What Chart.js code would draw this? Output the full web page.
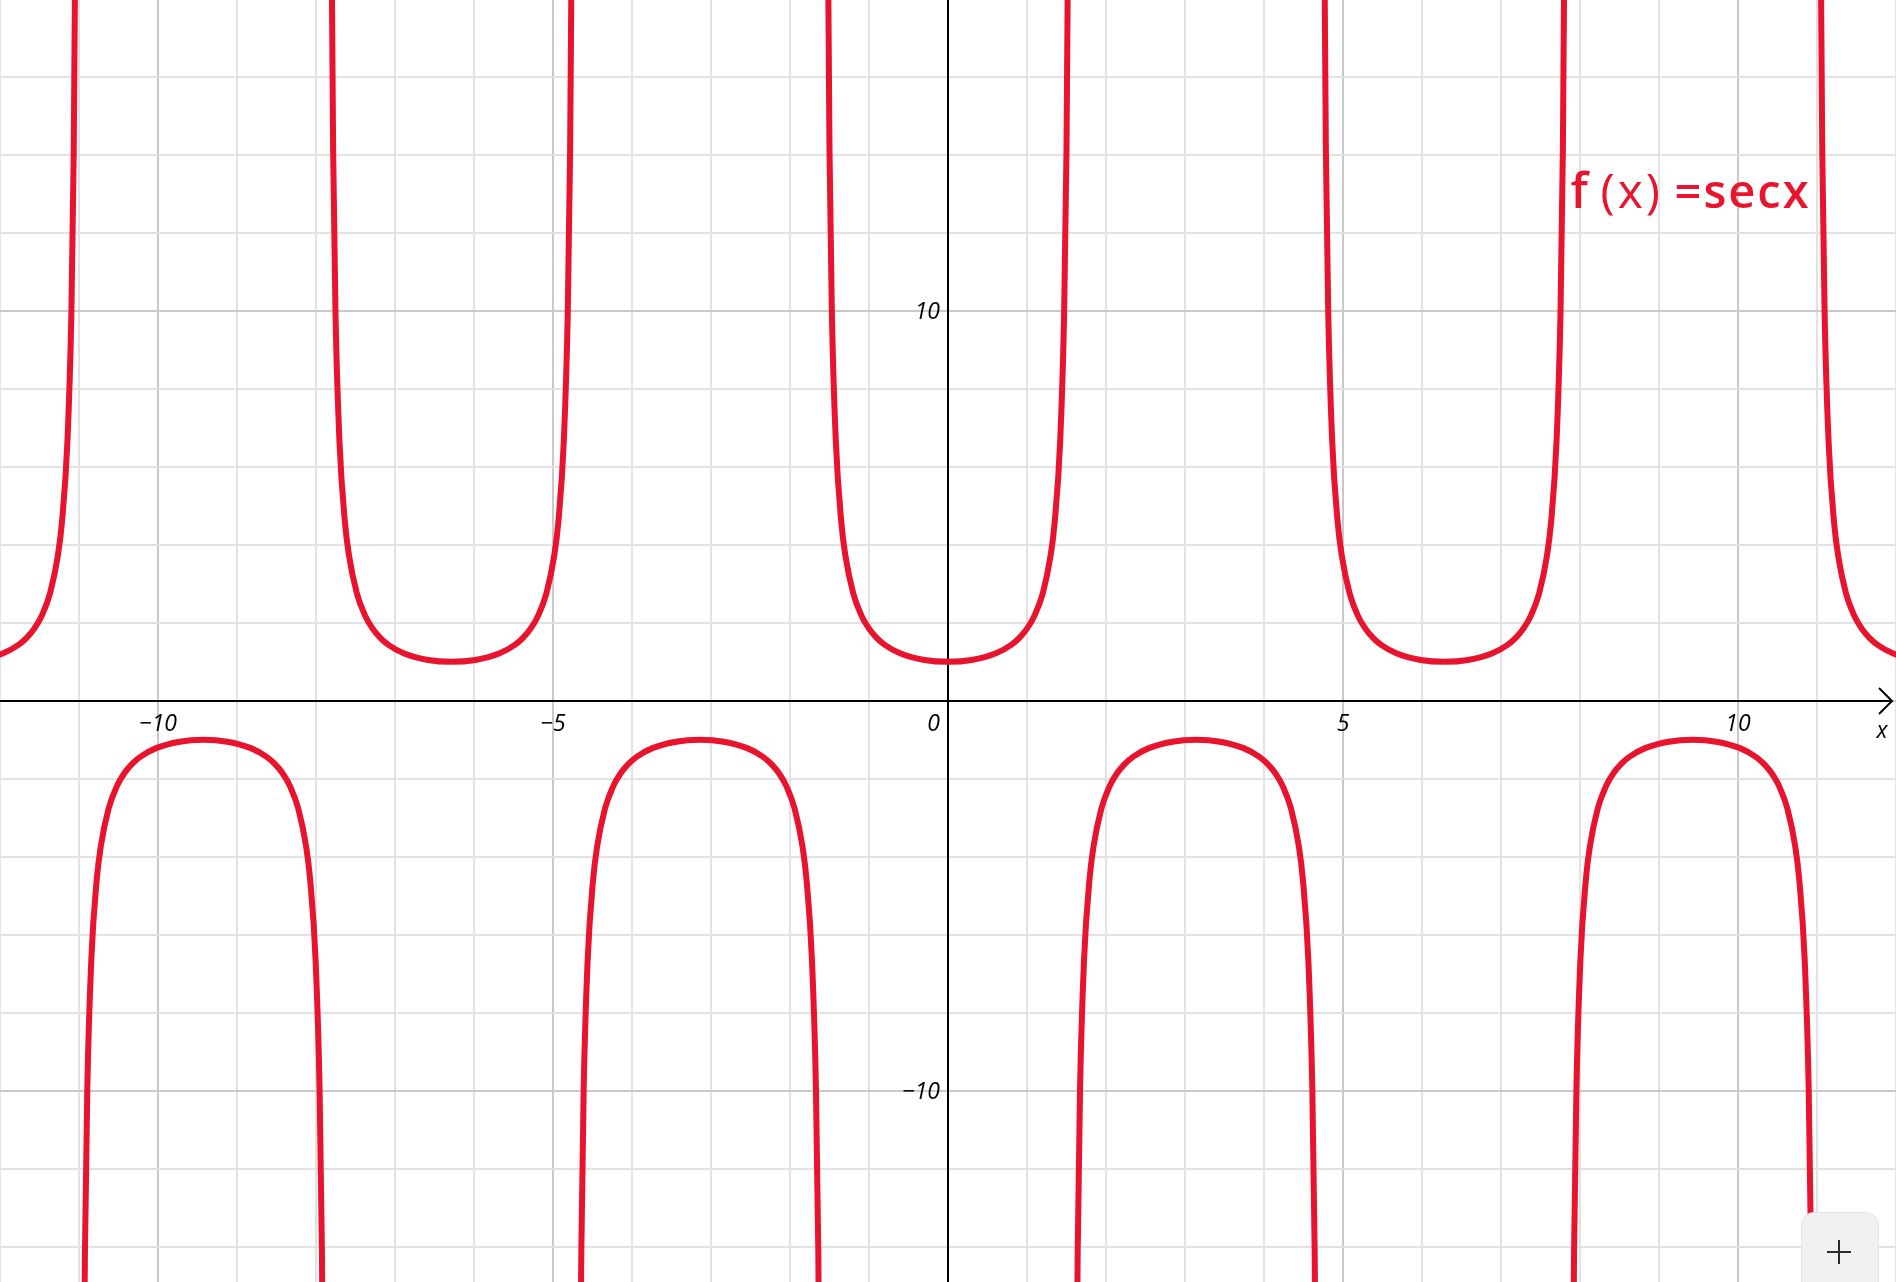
<!DOCTYPE html>
<html>
<head>
<meta charset="utf-8">
<script src="https://cdn.jsdelivr.net/npm/chart.js@4.4.1/dist/chart.umd.min.js"></script>
<style>
  html, body { margin:0; padding:0; background:#fff; overflow:hidden; }
  #wrap { position:relative; width:1896px; height:1282px; }
  #graph { display:block; }
  #zoomBtn { position:absolute; left:1801px; top:1212px; width:78px; height:90px; background:#f1f1f1;
             border:1px solid #e4e4e4; border-radius:13px; box-sizing:border-box; }
  #zoomBtn span { position:absolute; background:#2b2b2b; }
</style>
</head>
<body>
<div id="wrap">
  <canvas id="graph" width="1896" height="1282"></canvas>
  <div id="zoomBtn"><span style="left:25px;top:38px;width:24px;height:2px"></span><span style="left:36px;top:27px;width:2px;height:24px"></span></div>
</div>
<script>
// visible window
const xMin = -12, xMax = 12;
const yMin = -14.9, yMax = 17.97;

const xTickLabels = [-10, -5, 5, 10];
const yTickLabels = [-10, 10];

// f(x) = sec x, one branch at a time
const branchM4X = [-12.5664, -12.2664, -11.9664, -11.7664, -11.6664, -11.5664, -11.4664, -11.3664, -11.2664, -11.2164, -11.1464, -11.0964, -11.0664, -11.0464];
const branchM4Y = [1, 1.047, 1.212, 1.435, 1.609, 1.851, 2.205, 2.760, 3.738, 4.566, 6.657, 9.935, 14.137, 19.693];

const branchM3X = [-10.9448, -10.9248, -10.8948, -10.8448, -10.7748, -10.7248, -10.6248, -10.5248, -10.4248, -10.3248, -10.2248, -10.0248, -9.7248, -9.4248,
                   -9.1248, -8.8248, -8.6248, -8.5248, -8.4248, -8.3248, -8.2248, -8.1248, -8.0748, -8.0048, -7.9548, -7.9248, -7.9048];
const branchM3Y = [-19.693, -14.137, -9.935, -6.657, -4.566, -3.738, -2.760, -2.205, -1.851, -1.609, -1.435, -1.212, -1.047, -1,
                   -1.047, -1.212, -1.435, -1.609, -1.851, -2.205, -2.760, -3.738, -4.566, -6.657, -9.935, -14.137, -19.693];

const branchM2X = [-7.8032, -7.7832, -7.7532, -7.7032, -7.6332, -7.5832, -7.4832, -7.3832, -7.2832, -7.1832, -7.0832, -6.8832, -6.5832, -6.2832,
                   -5.9832, -5.6832, -5.4832, -5.3832, -5.2832, -5.1832, -5.0832, -4.9832, -4.9332, -4.8632, -4.8132, -4.7832, -4.7632];
const branchM2Y = [19.693, 14.137, 9.935, 6.657, 4.566, 3.738, 2.760, 2.205, 1.851, 1.609, 1.435, 1.212, 1.047, 1,
                   1.047, 1.212, 1.435, 1.609, 1.851, 2.205, 2.760, 3.738, 4.566, 6.657, 9.935, 14.137, 19.693];

const branchM1X = [-4.6616, -4.6416, -4.6116, -4.5616, -4.4916, -4.4416, -4.3416, -4.2416, -4.1416, -4.0416, -3.9416, -3.7416, -3.4416, -3.1416,
                   -2.8416, -2.5416, -2.3416, -2.2416, -2.1416, -2.0416, -1.9416, -1.8416, -1.7916, -1.7216, -1.6716, -1.6416, -1.6216];
const branchM1Y = [-19.693, -14.137, -9.935, -6.657, -4.566, -3.738, -2.760, -2.205, -1.851, -1.609, -1.435, -1.212, -1.047, -1,
                   -1.047, -1.212, -1.435, -1.609, -1.851, -2.205, -2.760, -3.738, -4.566, -6.657, -9.935, -14.137, -19.693];

const branch0X = [-1.52, -1.5, -1.47, -1.42, -1.35, -1.3, -1.2, -1.1, -1, -0.9, -0.8, -0.6, -0.3, 0,
                  0.3, 0.6, 0.8, 0.9, 1, 1.1, 1.2, 1.3, 1.35, 1.42, 1.47, 1.5, 1.52];
const branch0Y = [19.693, 14.137, 9.935, 6.657, 4.566, 3.738, 2.760, 2.205, 1.851, 1.609, 1.435, 1.212, 1.047, 1,
                  1.047, 1.212, 1.435, 1.609, 1.851, 2.205, 2.760, 3.738, 4.566, 6.657, 9.935, 14.137, 19.693];

const branchP1X = [1.6216, 1.6416, 1.6716, 1.7216, 1.7916, 1.8416, 1.9416, 2.0416, 2.1416, 2.2416, 2.3416, 2.5416, 2.8416, 3.1416,
                   3.4416, 3.7416, 3.9416, 4.0416, 4.1416, 4.2416, 4.3416, 4.4416, 4.4916, 4.5616, 4.6116, 4.6416, 4.6616];
const branchP1Y = [-19.693, -14.137, -9.935, -6.657, -4.566, -3.738, -2.760, -2.205, -1.851, -1.609, -1.435, -1.212, -1.047, -1,
                   -1.047, -1.212, -1.435, -1.609, -1.851, -2.205, -2.760, -3.738, -4.566, -6.657, -9.935, -14.137, -19.693];

const branchP2X = [4.7632, 4.7832, 4.8132, 4.8632, 4.9332, 4.9832, 5.0832, 5.1832, 5.2832, 5.3832, 5.4832, 5.6832, 5.9832, 6.2832,
                   6.5832, 6.8832, 7.0832, 7.1832, 7.2832, 7.3832, 7.4832, 7.5832, 7.6332, 7.7032, 7.7532, 7.7832, 7.8032];
const branchP2Y = [19.693, 14.137, 9.935, 6.657, 4.566, 3.738, 2.760, 2.205, 1.851, 1.609, 1.435, 1.212, 1.047, 1,
                   1.047, 1.212, 1.435, 1.609, 1.851, 2.205, 2.760, 3.738, 4.566, 6.657, 9.935, 14.137, 19.693];

const branchP3X = [7.9048, 7.9248, 7.9548, 8.0048, 8.0748, 8.1248, 8.2248, 8.3248, 8.4248, 8.5248, 8.6248, 8.8248, 9.1248, 9.4248,
                   9.7248, 10.0248, 10.2248, 10.3248, 10.4248, 10.5248, 10.6248, 10.7248, 10.7748, 10.8448, 10.8948, 10.9248, 10.9448];
const branchP3Y = [-19.693, -14.137, -9.935, -6.657, -4.566, -3.738, -2.760, -2.205, -1.851, -1.609, -1.435, -1.212, -1.047, -1,
                   -1.047, -1.212, -1.435, -1.609, -1.851, -2.205, -2.760, -3.738, -4.566, -6.657, -9.935, -14.137, -19.693];

const branchP4X = [11.0464, 11.0664, 11.0964, 11.1464, 11.2164, 11.2664, 11.3664, 11.4664, 11.5664, 11.6664, 11.7664, 11.9664, 12.2664, 12.5664];
const branchP4Y = [19.693, 14.137, 9.935, 6.657, 4.566, 3.738, 2.760, 2.205, 1.851, 1.609, 1.435, 1.212, 1.047, 1];

const branches = [
  [branchM4X, branchM4Y], [branchM3X, branchM3Y], [branchM2X, branchM2Y], [branchM1X, branchM1Y],
  [branch0X, branch0Y], [branchP1X, branchP1Y], [branchP2X, branchP2Y], [branchP3X, branchP3Y], [branchP4X, branchP4Y]
];

const curveColor = '#e8132d';

function fmt(v) {
  return v < 0 ? '\u2212' + Math.abs(v) : String(v);
}

// axes, arrow and tick numbers sit under the curve
const axesPlugin = {
  id: 'axes',
  beforeDatasetsDraw(chart) {
    const { ctx, scales: { x, y } } = chart;
    const ox = Math.round(x.getPixelForValue(0));
    const oy = Math.round(y.getPixelForValue(0));
    const w = chart.width, h = chart.height;
    ctx.save();
    ctx.strokeStyle = '#000';
    ctx.lineWidth = 2;
    ctx.beginPath();
    ctx.moveTo(0, oy); ctx.lineTo(w - 4, oy);
    ctx.moveTo(ox, 0); ctx.lineTo(ox, h);
    ctx.stroke();
    ctx.beginPath();
    ctx.moveTo(w - 17, oy - 13); ctx.lineTo(w - 4, oy); ctx.lineTo(w - 17, oy + 13);
    ctx.stroke();

    ctx.fillStyle = '#000';
    ctx.font = 'italic 23px "Open Sans"';
    ctx.textBaseline = 'middle';
    ctx.textAlign = 'center';
    xTickLabels.forEach(v => ctx.fillText(fmt(v), x.getPixelForValue(v), oy + 23));
    ctx.textAlign = 'right';
    yTickLabels.forEach(v => ctx.fillText(fmt(v), ox - 8, y.getPixelForValue(v) + 2));
    ctx.fillText('0', ox - 8, oy + 23);
    ctx.textAlign = 'center';
    ctx.fillText('x', w - 14, oy + 30);
    ctx.restore();
  },
  afterDatasetsDraw(chart) {
    const { ctx, scales: { x, y } } = chart;
    const lx = x.getPixelForValue(7.88);
    const ly = y.getPixelForValue(12.64);
    ctx.save();
    ctx.fillStyle = curveColor;
    ctx.textBaseline = 'alphabetic';
    ctx.textAlign = 'left';
    ctx.font = '600 48px "Open Sans"';
    ctx.fillText('f', lx, ly);
    ctx.font = '500 48px "Open Sans"';
    ctx.letterSpacing = '3px';
    ctx.fillText('(x)', lx + 30, ly);
    ctx.font = '600 47px "Open Sans"';
    ctx.letterSpacing = '2px';
    ctx.fillText('=secx', lx + 104, ly);
    ctx.restore();
  }
};

new Chart(document.getElementById('graph'), {
  type: 'scatter',
  data: {
    datasets: branches.map(([xs, ys]) => ({
      data: xs.map((v, i) => ({ x: v, y: ys[i] })),
      showLine: true,
      borderColor: curveColor,
      borderWidth: 6,
      pointRadius: 0,
      cubicInterpolationMode: 'monotone',
      fill: false
    }))
  },
  options: {
    responsive: false,
    devicePixelRatio: 1,
    animation: false,
    events: [],
    layout: { padding: 0 },
    plugins: { legend: { display: false }, tooltip: { enabled: false } },
    scales: {
      x: {
        type: 'linear', min: xMin, max: xMax,
        border: { display: false },
        ticks: { display: false, stepSize: 1, includeBounds: false, maxTicksLimit: 1000 },
        grid: { drawTicks: false, lineWidth: 2, color: c => c.tick.value % 5 === 0 ? '#c9c9c9' : '#e2e2e2' }
      },
      y: {
        type: 'linear', min: yMin, max: yMax,
        border: { display: false },
        ticks: { display: false, stepSize: 2, includeBounds: false, maxTicksLimit: 1000 },
        grid: { drawTicks: false, lineWidth: 2, color: c => c.tick.value % 10 === 0 ? '#c9c9c9' : '#e2e2e2' }
      }
    }
  },
  plugins: [axesPlugin]
});
</script>
</body>
</html>
